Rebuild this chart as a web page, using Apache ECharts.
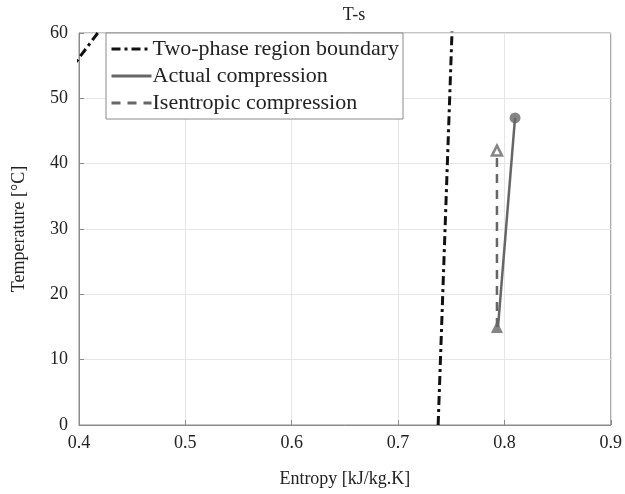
<!DOCTYPE html>
<html>
<head>
<meta charset="UTF-8">
<title>T-s</title>
<script src="https://cdn.jsdelivr.net/npm/echarts@6/dist/echarts.min.js"></script>
<style>
  html, body { margin: 0; padding: 0; background: #fff; }
  #chart { width: 625px; height: 494px; }
</style>
</head>
<body>
<div id="chart"></div>
<script>
// saturation dome (clipped to the axes)
var liquidLine = [[0.39, 54.0], [0.425, 61.6]];
var vaporLine = [[0.7377, 0], [0.7442, 30], [0.7507, 60], [0.7512, 62]];
// compression paths
var actualLine = [[0.794, 15], [0.810, 47]];
var isentropicLine = [[0.793, 15], [0.793, 42]];
var xTicks = [0.4, 0.5, 0.6, 0.7, 0.8, 0.9];
var yTicks = [0, 10, 20, 30, 40, 50, 60];

var font = 'Liberation Serif';
var grey = '#666666';

var chart = echarts.init(document.getElementById('chart'));
chart.setOption({
  animation: false,
  title: {
    text: 'T-s', left: 349, top: 1, textAlign: 'center',
    textStyle: { fontFamily: font, fontSize: 18, fontWeight: 'normal', color: '#222' }
  },
  grid: { left: 79, right: 10, top: 33, bottom: 69, show: true, borderColor: '#8a8a8a', borderWidth: 1 },
  legend: {
    left: 106, top: 33, orient: 'vertical',
    data: ['Two-phase region boundary', 'Actual compression', 'Isentropic compression'],
    backgroundColor: '#fff', borderColor: '#8a8a8a', borderWidth: 1,
    padding: [5, 4, 5, 4], itemGap: 5, itemWidth: 40, itemHeight: 22,
    itemStyle: { opacity: 0 },
    lineStyle: { width: 3 },
    textStyle: { fontFamily: font, fontSize: 22, color: '#222', padding: [0, 0, 0, -4] }
  },
  xAxis: {
    type: 'value', min: 0.4, max: 0.9, interval: 0.1,
    name: 'Entropy [kJ/kg.K]', nameLocation: 'middle', nameGap: 45,
    nameTextStyle: { fontFamily: font, fontSize: 18, color: '#222' },
    axisLine: { lineStyle: { color: '#8a8a8a' } },
    axisTick: { inside: true, length: 5, lineStyle: { color: '#8a8a8a' } },
    axisLabel: { fontFamily: font, fontSize: 18, color: '#222', margin: 9,
      formatter: function (v) { return xTicks.indexOf(Math.round(v * 10) / 10) >= 0 ? v.toFixed(1) : ''; } },
    splitLine: { lineStyle: { color: '#e6e6e6' } }
  },
  yAxis: {
    type: 'value', min: 0, max: 60, interval: 10,
    name: 'Temperature [°C]', nameLocation: 'middle', nameGap: 51,
    nameTextStyle: { fontFamily: font, fontSize: 18, color: '#222' },
    axisLine: { show: true, lineStyle: { color: '#8a8a8a' } },
    axisTick: { show: true, inside: true, length: 5, lineStyle: { color: '#8a8a8a' } },
    axisLabel: { fontFamily: font, fontSize: 18, color: '#222', margin: 11,
      formatter: function (v) { return yTicks.indexOf(v) >= 0 ? String(v) : ''; } },
    splitLine: { lineStyle: { color: '#e6e6e6' } }
  },
  series: [
    {
      name: 'Two-phase region boundary', type: 'line', data: liquidLine, symbol: 'none',
      lineStyle: { color: '#111', width: 3, type: [9, 4, 3, 4] }, itemStyle: { color: '#111' }
    },
    {
      name: 'Two-phase region boundary', type: 'line', data: vaporLine, symbol: 'none',
      lineStyle: { color: '#111', width: 3, type: [9, 4, 3, 4] }, itemStyle: { color: '#111' }
    },
    {
      name: 'Actual compression', type: 'line', data: actualLine, symbol: 'none',
      lineStyle: { color: grey, width: 2.5 }, itemStyle: { color: grey }
    },
    {
      name: 'Isentropic compression', type: 'line', data: isentropicLine, symbol: 'none',
      lineStyle: { color: grey, width: 2.5, type: [9, 7] }, itemStyle: { color: grey }
    },
    {
      type: 'scatter', data: [actualLine[1]], symbol: 'circle', symbolSize: 11,
      itemStyle: { color: grey }, z: 5
    },
    {
      type: 'scatter', data: [isentropicLine[0]], symbol: 'triangle', symbolSize: 12,
      itemStyle: { color: grey }, z: 5
    },
    {
      type: 'scatter', data: [isentropicLine[1]], symbol: 'triangle', symbolSize: 10,
      itemStyle: { color: '#fff', borderColor: grey, borderWidth: 2.5 }, z: 5
    }
  ]
});
</script>
</body>
</html>
